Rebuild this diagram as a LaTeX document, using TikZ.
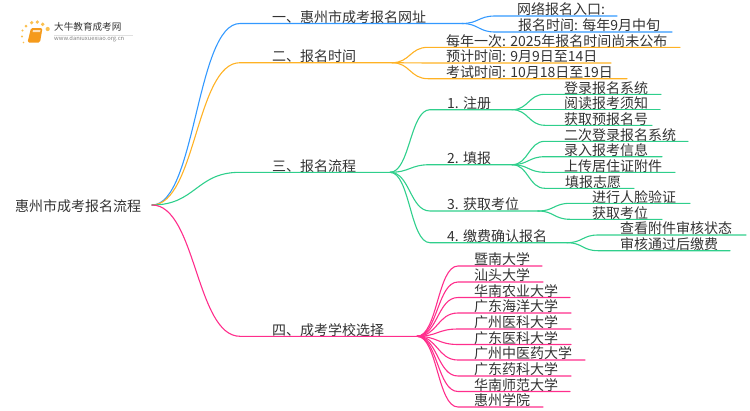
\documentclass[tikz,border=0pt]{standalone}
\usepackage{fontspec}
\setmainfont{Noto Sans CJK SC}
\usetikzlibrary{calc}

\definecolor{blueline}{HTML}{3399FF}
\definecolor{orangeline}{HTML}{FFB224}
\definecolor{greenline}{HTML}{2FCF8C}
\definecolor{pinkline}{HTML}{FF2E8C}
\definecolor{textcol}{HTML}{333333}
\definecolor{bookcol}{HTML}{F59A1B}
\definecolor{dotcol}{HTML}{FBC04F}

\tikzstyle{txt}=[anchor=base west, inner sep=0pt, yshift=1.2pt, text=textcol, font=\fontsize{14}{16}\selectfont]
\tikzstyle{rootbox}=[anchor=west, inner ysep=0pt, inner xsep=11.5pt, text=textcol, font=\fontsize{14}{16}\selectfont]
\tikzstyle{conn}=[line width=1.1pt, line cap=round]
\tikzstyle{fork}=[to path={.. controls ($(\tikztostart)!.5!(\tikztotarget|-\tikztostart)$) and ($(\tikztotarget)!.5!(\tikztostart|-\tikztotarget)$) .. (\tikztotarget)}]

\begin{document}
\begin{tikzpicture}[x=1pt, y=-1pt]
      \useasboundingbox (0,0) rectangle (750,410);
      % logo
      \foreach \i/\px/\py/\r in {a/22.5/30.5/1.2, b/22/36.5/1.1, c/23.5/42.5/0.9, d/26/26/1.5, e/31.7/22.7/1.8, f/37.3/22/1.8, g/42.7/24.3/1.9, h/47.7/29/2.1} {%
        \fill[dotcol] (\px,\py) circle (\r);
      }
      \fill[bookcol, rounded corners=1.5pt] (31,28) -- (42.5,28) -- (40,42.5) -- (27.5,42.5) -- cycle;
      \fill[white!70!bookcol] (33,30) -- (40.5,30) -- (40,32) -- (32.6,32) -- cycle;
      \node[anchor=west, inner sep=0pt, text=textcol, font=\fontsize{9.6}{11}\selectfont] (logoname) at (54,27) {大牛教育成考网};
      \node[anchor=west, inner sep=0pt, text=gray, font=\fontsize{5.8}{7}\selectfont] (logourl) at (54,38.5) {www.daniuxuexiao.org.cn};
      \draw[black!12, line width=0.4pt] (logourl.north west) ++(0,-0.5) -- ++(79,0);

      \node[rootbox] (root) at (3.5,206) {惠州市成考报名流程};
      \coordinate (root-end) at (152,205);

      % parent/name/start x/end x/y/text x/text
      \foreach \parent/\name/\xa/\xb/\y/\tx/\t in {
        root/one/240/462/23.5/272/一、惠州市成考报名网址,
        one/onea/495/617/16/517/网络报名入口:,
        one/oneb/495/672/32/518/报名时间: 每年9月中旬} {%
        \coordinate (\name-start) at (\xa,\y);
        \coordinate (\name-end) at (\xb,\y);
        \node[txt] (\name) at (\tx,\y) {\t};
        \draw[conn, blueline] (\parent-end) to[fork] (\name-start) -- (\name-end);
      }
      \foreach \parent/\name/\xa/\xb/\y/\tx/\t in {
        root/two/240/392/62.7/272/二、报名时间,
        two/twoa/428/680/47.3/446/每年一次: 2025年报名时间尚未公布,
        two/twob/428/611/63/446/预计时间: 9月9日至14日,
        two/twoc/428/627/78.7/446/考试时间: 10月18日至19日} {%
        \coordinate (\name-start) at (\xa,\y);
        \coordinate (\name-end) at (\xb,\y);
        \node[txt] (\name) at (\tx,\y) {\t};
        \draw[conn, orangeline] (\parent-end) to[fork] (\name-start) -- (\name-end);
      }
      \foreach \parent/\name/\xa/\xb/\y/\tx/\t in {
        root/three/240/390/172.3/272/三、报名流程,
        three/reg/430/512/109.7/447/1. 注册,
        reg/rega/545/661/94.3/564/登录报名系统,
        reg/regb/545/660/109.7/564/阅读报考须知,
        reg/regc/545/652/125.3/564/获取预报名号,
        three/fill/430/512/164.7/447/2. 填报,
        fill/filla/545/688/141.3/564/二次登录报名系统,
        fill/fillb/545/662/156.7/564/录入报考信息,
        fill/fillc/545/675/172.3/564/上传居住证附件,
        fill/filld/545/634/188.3/565/填报志愿,
        three/seat/430/538/211/447/3. 获取考位,
        seat/seata/570/690/203.3/592/进行人脸验证,
        seat/seatb/570/662/219.3/592/获取考位,
        three/pay/430/567/242.7/447/4. 缴费确认报名,
        pay/paya/598/746/235/620/查看附件审核状态,
        pay/payb/598/730/250.7/620/审核通过后缴费} {%
        \coordinate (\name-start) at (\xa,\y);
        \coordinate (\name-end) at (\xb,\y);
        \node[txt] (\name) at (\tx,\y) {\t};
        \draw[conn, greenline] (\parent-end) to[fork] (\name-start) -- (\name-end);
      }
      \foreach \parent/\name/\xa/\xb/\y/\tx/\t in {
        root/four/240/417/336.3/272/四、成考学校选择,
        four/uni1/458/542/266/474/暨南大学,
        four/uni2/458/543/282/474/汕头大学,
        four/uni3/458/570/297.5/474/华南农业大学,
        four/uni4/458/571/313/474/广东海洋大学,
        four/uni5/458/571/329/474/广州医科大学,
        four/uni6/458/571/344.5/474/广东医科大学,
        four/uni7/458/585/360/474/广州中医药大学,
        four/uni8/458/571/376/474/广东药科大学,
        four/uni9/458/570/391.5/474/华南师范大学,
        four/uni10/458/543/407/474/惠州学院} {%
        \coordinate (\name-start) at (\xa,\y);
        \coordinate (\name-end) at (\xb,\y);
        \node[txt] (\name) at (\tx,\y) {\t};
        \draw[conn, pinkline] (\parent-end) to[fork] (\name-start) -- (\name-end);
      }
    \end{tikzpicture}
\end{document}
